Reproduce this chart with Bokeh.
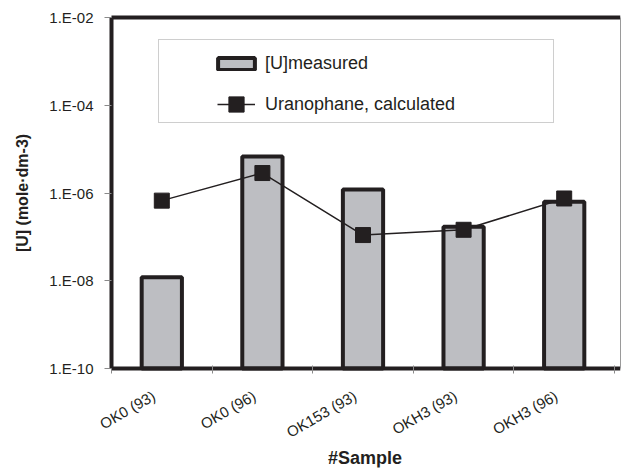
import math

from bokeh.plotting import figure
from bokeh.models import (ColumnDataSource, FixedTicker, LinearAxis, LogAxis,
                          Legend, LegendItem, Range1d, Label,
                          CustomJSTickFormatter)
from bokeh.embed import file_html
from bokeh.resources import INLINE

# --- data -------------------------------------------------------------------
samples = ["OK0 (93)", "OK0 (96)", "OK153 (93)", "OKH3 (93)", "OKH3 (96)"]
u_measured = [1.2e-8, 6.8e-6, 1.2e-6, 1.7e-7, 6.3e-7]        # mole·dm-3
uranophane_calc = [6.7e-7, 2.85e-6, 1.1e-7, 1.45e-7, 7.5e-7]  # mole·dm-3
y_ticks = [1e-10, 1e-8, 1e-6, 1e-4, 1e-2]
y_tick_labels = ["1.E-10", "1.E-08", "1.E-06", "1.E-04", "1.E-02"]

# category centres and boundaries on a numeric x scale
centres = [i + 0.5 for i in range(len(samples))]
bounds = list(range(len(samples) + 1))

INK = "#231F20"
FONT = "Liberation Sans"

# page geometry (px).  The data frame covers nearly the whole page; the axes
# are pinned to the plot box (first category edge, lowest and highest decade)
# so that every text can be laid out inside the frame.
W, H = 621, 469
FRAME_LEFT, FRAME_RIGHT, FRAME_TOP, FRAME_BOTTOM = 10, 620, 8, 467
AXIS_X, AXIS_TOP, AXIS_Y, CAT_PX = 111, 17, 368, 100.6

decades = math.log10(y_ticks[-1] / y_ticks[0])
px_per_decade = (AXIS_Y - AXIS_TOP) / decades
y_start = y_ticks[0] * 10 ** (-(FRAME_BOTTOM - AXIS_Y) / px_per_decade)
y_end = y_ticks[-1] * 10 ** ((AXIS_TOP - FRAME_TOP) / px_per_decade)
x_start = -(AXIS_X - FRAME_LEFT) / CAT_PX
x_end = (FRAME_RIGHT - AXIS_X) / CAT_PX
lift = FRAME_BOTTOM - AXIS_Y     # legend offsets are measured from frame bottom
shift = AXIS_X - FRAME_LEFT      # ... and from frame left

no_text = CustomJSTickFormatter(code="return '';")

src = ColumnDataSource(dict(x=centres, measured=u_measured, calc=uranophane_calc))

p = figure(width=W, height=H,
           x_range=Range1d(x_start, x_end),
           y_range=Range1d(y_start, y_end),
           y_axis_type="log", x_axis_location="above",
           output_backend="svg", toolbar_location=None,
           min_border_left=FRAME_LEFT, min_border_right=W - FRAME_RIGHT,
           min_border_top=FRAME_TOP, min_border_bottom=H - FRAME_BOTTOM)

p.xgrid.visible = False
p.ygrid.visible = False
p.outline_line_color = None
p.background_fill_color = "white"
p.border_fill_color = "white"

# --- marks ------------------------------------------------------------------
bars = p.vbar(x="x", top="measured", bottom=y_ticks[0], width=0.4, source=src,
              fill_color="#BDBEC2", line_color=INK, line_width=4)
calc_line = p.line(x="x", y="calc", source=src, line_color=INK, line_width=1.5)
calc_pts = p.scatter(x="x", y="calc", source=src, marker="square", size=15,
                     fill_color=INK, line_color=INK)

# --- axes -------------------------------------------------------------------
yax = p.yaxis[0]
yax.fixed_location = 0
yax.bounds = (y_ticks[0], y_ticks[-1])
yax.ticker = FixedTicker(ticks=y_ticks, minor_ticks=[])
yax.formatter = no_text
yax.axis_line_width = 4
yax.axis_line_color = INK
yax.major_tick_line_color = "#8a8a8a"
yax.major_tick_out = 7
yax.major_tick_in = 0
yax.major_label_standoff = 0

for t, txt in zip(y_ticks, y_tick_labels):
    p.add_layout(Label(x=0, y=t, text=txt, x_offset=-18,
                       text_align="right", text_baseline="middle",
                       text_font=FONT, text_font_size="15px", text_color=INK))

p.add_layout(Label(x=0, y=math.sqrt(y_ticks[0] * y_ticks[-1]),
                   text="[U] (mole·dm-3)", angle=math.pi / 2,
                   text_align="center", text_baseline="middle", x_offset=-89,
                   text_font=FONT, text_font_size="16px",
                   text_font_style="bold", text_color=INK))

# category axis pinned to the lowest decade; ticks mark category boundaries
xax = p.xaxis[0]
xax.fixed_location = y_ticks[0]
xax.bounds = (0, x_end)
xax.ticker = FixedTicker(ticks=centres, minor_ticks=bounds)
xax.formatter = no_text
xax.axis_line_width = 4
xax.axis_line_color = INK
xax.major_tick_line_color = None
xax.major_tick_out = 0
xax.major_tick_in = 0
xax.minor_tick_line_color = "#8a8a8a"
xax.minor_tick_out = 3
xax.minor_tick_in = 5
xax.major_label_standoff = 0

for xc, name in zip(centres, samples):
    p.add_layout(Label(x=xc, y=y_ticks[0], text=name,
                       angle=math.pi / 6, text_align="right",
                       text_baseline="middle", x_offset=-8, y_offset=-26,
                       text_font=FONT, text_font_size="15px", text_color=INK))

p.add_layout(Label(x=len(samples) / 2, y=y_ticks[0], text="#Sample",
                   text_align="center", text_baseline="middle",
                   x_offset=2, y_offset=-89,
                   text_font=FONT, text_font_size="18px",
                   text_font_style="bold", text_color=INK))

# heavy box line at the highest decade, thin one down the right-hand side
top = LinearAxis(ticker=FixedTicker(ticks=[]), bounds=(0, x_end),
                 fixed_location=y_ticks[-1], formatter=no_text,
                 major_label_standoff=0, axis_line_width=4,
                 axis_line_color=INK, major_tick_line_color=None,
                 minor_tick_line_color=None)
p.add_layout(top, "below")
side = LogAxis(ticker=FixedTicker(ticks=[]), bounds=(y_ticks[0], y_ticks[-1]),
               formatter=no_text, major_label_standoff=0,
               axis_line_width=1, axis_line_color="#9a9a9a",
               major_tick_line_color=None, minor_tick_line_color=None)
p.add_layout(side, "right")

# --- legend -----------------------------------------------------------------
blank = p.scatter(x=[], y=[], alpha=0)

common = dict(padding=0, margin=0, spacing=0, border_line_color=None,
              background_fill_alpha=0, label_text_font=FONT,
              label_text_font_size="18px", label_text_color=INK)

frame_box = Legend(items=[LegendItem(label=" ", renderers=[blank])],
                   location=(47 + shift, 245 + lift), padding=0, margin=0,
                   spacing=0, glyph_width=1, glyph_height=1, label_standoff=0,
                   label_width=393, label_height=82,
                   border_line_color="#9d9d9d", border_line_width=1,
                   background_fill_color="white", background_fill_alpha=1)
leg_bar = Legend(items=[LegendItem(label="[U]measured", renderers=[bars])],
                 location=(102 + shift, 294 + lift), glyph_width=46,
                 glyph_height=15, label_standoff=6, label_height=22, **common)
leg_calc = Legend(items=[LegendItem(label="Uranophane, calculated",
                                    renderers=[calc_line, calc_pts])],
                  location=(106 + shift, 245 + lift), glyph_width=38,
                  glyph_height=38, label_standoff=10, label_height=38, **common)
for lg in (frame_box, leg_bar, leg_calc):
    p.add_layout(lg, "center")

open("out.html", "w").write(file_html(p, INLINE))
